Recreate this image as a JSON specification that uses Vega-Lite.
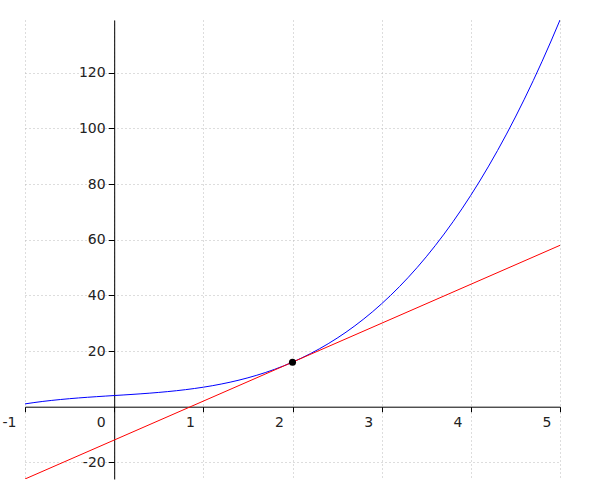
{
  "$schema": "https://vega.github.io/schema/vega-lite/v6.json",
  "width": 535,
  "height": 459,
  "autosize": {"type": "none"},
  "padding": {"left": 25, "top": 20, "right": 15, "bottom": 21},
  "background": "white",
  "config": {
    "view": {"stroke": null},
    "axis": {
      "title": null,
      "grid": true,
      "gridDash": [1, 3],
      "gridColor": "#bbbbbb",
      "gridWidth": 1,
      "domainColor": "#000000",
      "domainWidth": 1,
      "tickColor": "#000000",
      "tickWidth": 1,
      "labelFont": "DejaVu Sans",
      "labelFontSize": 14,
      "labelColor": "#222222",
      "labelFlush": false,
      "labelOverlap": false,
      "labelExpr": "'' + datum.value"
    }
  },
  "datasets": {
    "curve": [
      {"x": -1.0, "y": 1.0}, {"x": -0.9, "y": 1.471}, {"x": -0.8, "y": 1.888}, {"x": -0.7, "y": 2.257},
      {"x": -0.6, "y": 2.584}, {"x": -0.5, "y": 2.875}, {"x": -0.4, "y": 3.136}, {"x": -0.3, "y": 3.373},
      {"x": -0.2, "y": 3.592}, {"x": -0.1, "y": 3.799}, {"x": 0.0, "y": 4.0}, {"x": 0.1, "y": 4.201},
      {"x": 0.2, "y": 4.408}, {"x": 0.3, "y": 4.627}, {"x": 0.4, "y": 4.864}, {"x": 0.5, "y": 5.125},
      {"x": 0.6, "y": 5.416}, {"x": 0.7, "y": 5.743}, {"x": 0.8, "y": 6.112}, {"x": 0.9, "y": 6.529},
      {"x": 1.0, "y": 7.0}, {"x": 1.1, "y": 7.531}, {"x": 1.2, "y": 8.128}, {"x": 1.3, "y": 8.797},
      {"x": 1.4, "y": 9.544}, {"x": 1.5, "y": 10.375}, {"x": 1.6, "y": 11.296}, {"x": 1.7, "y": 12.313},
      {"x": 1.8, "y": 13.432}, {"x": 1.9, "y": 14.659}, {"x": 2.0, "y": 16.0}, {"x": 2.1, "y": 17.461},
      {"x": 2.2, "y": 19.048}, {"x": 2.3, "y": 20.767}, {"x": 2.4, "y": 22.624}, {"x": 2.5, "y": 24.625},
      {"x": 2.6, "y": 26.776}, {"x": 2.7, "y": 29.083}, {"x": 2.8, "y": 31.552}, {"x": 2.9, "y": 34.189},
      {"x": 3.0, "y": 37.0}, {"x": 3.1, "y": 39.991}, {"x": 3.2, "y": 43.168}, {"x": 3.3, "y": 46.537},
      {"x": 3.4, "y": 50.104}, {"x": 3.5, "y": 53.875}, {"x": 3.6, "y": 57.856}, {"x": 3.7, "y": 62.053},
      {"x": 3.8, "y": 66.472}, {"x": 3.9, "y": 71.119}, {"x": 4.0, "y": 76.0}, {"x": 4.1, "y": 81.121},
      {"x": 4.2, "y": 86.488}, {"x": 4.3, "y": 92.107}, {"x": 4.4, "y": 97.984}, {"x": 4.5, "y": 104.125},
      {"x": 4.6, "y": 110.536}, {"x": 4.7, "y": 117.223}, {"x": 4.8, "y": 124.192}, {"x": 4.9, "y": 131.449},
      {"x": 5.0, "y": 139.0}
    ],
    "tangent": [
      {"x": -1, "y": -26},
      {"x": 5, "y": 58}
    ],
    "point": [
      {"x": 2, "y": 16}
    ]
  },
  "encoding": {
    "x": {
      "field": "x",
      "type": "quantitative",
      "scale": {"domain": [-1, 5], "nice": false, "zero": false},
      "axis": {
        "values": [-1, 0, 1, 2, 3, 4, 5],
        "offset": -72.3,
        "tickSize": 5,
        "labelAlign": "right",
        "labelOffset": -9,
        "labelPadding": 4
      }
    },
    "y": {
      "field": "y",
      "type": "quantitative",
      "scale": {"domain": [-26, 139], "nice": false, "zero": false},
      "axis": {
        "values": [-20, 20, 40, 60, 80, 100, 120],
        "offset": -89.2,
        "tickSize": 6,
        "labelPadding": 3,
        "labelBaseline": "middle"
      }
    }
  },
  "layer": [
    {
      "data": {"name": "curve"},
      "mark": {"type": "line", "color": "#0000ff", "strokeWidth": 1, "clip": true}
    },
    {
      "data": {"name": "tangent"},
      "mark": {"type": "line", "color": "#ff0000", "strokeWidth": 1, "clip": true}
    },
    {
      "data": {"name": "point"},
      "mark": {"type": "point", "filled": true, "color": "#000000", "size": 50, "opacity": 1}
    }
  ]
}
